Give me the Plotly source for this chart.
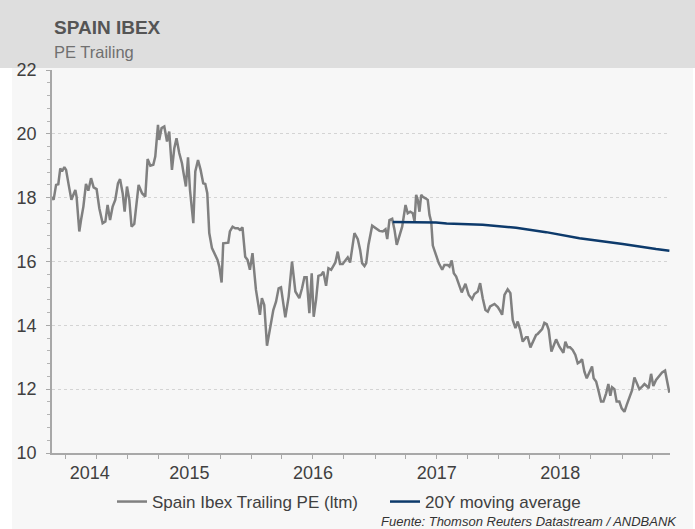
import plotly.graph_objects as go
from datetime import datetime, timedelta

# Spain Ibex trailing PE (decimal year, value)
pe_years = [
    2014.388, 2014.401, 2014.421, 2014.439, 2014.455, 2014.469, 2014.488, 2014.502, 2014.523, 2014.545,
    2014.561, 2014.577, 2014.587, 2014.609, 2014.623, 2014.642, 2014.663, 2014.682, 2014.704, 2014.725,
    2014.749, 2014.771, 2014.798, 2014.820, 2014.838, 2014.858, 2014.879, 2014.900, 2014.922, 2014.939,
    2014.960, 2014.976, 2014.995, 2015.014, 2015.032, 2015.054, 2015.089, 2015.117, 2015.143, 2015.162,
    2015.184, 2015.208, 2015.224, 2015.246, 2015.256, 2015.275, 2015.297, 2015.319, 2015.337, 2015.359,
    2015.378, 2015.396, 2015.418, 2015.440, 2015.453, 2015.472, 2015.489, 2015.505, 2015.532, 2015.548,
    2015.570, 2015.591, 2015.612, 2015.629, 2015.645, 2015.661, 2015.683, 2015.701, 2015.728, 2015.742,
    2015.761, 2015.774, 2015.796, 2015.815, 2015.828, 2015.850, 2015.871, 2015.893, 2015.909, 2015.930,
    2015.952, 2015.971, 2015.990, 2016.011, 2016.039, 2016.071, 2016.087, 2016.106, 2016.128, 2016.152,
    2016.179, 2016.201, 2016.222, 2016.241, 2016.276, 2016.303, 2016.330, 2016.357, 2016.389, 2016.411,
    2016.430, 2016.448, 2016.470, 2016.489, 2016.505, 2016.524, 2016.543, 2016.565, 2016.583, 2016.605,
    2016.624, 2016.646, 2016.664, 2016.680, 2016.699, 2016.718, 2016.739, 2016.761, 2016.780, 2016.799,
    2016.834, 2016.861, 2016.880, 2016.896, 2016.915, 2016.929, 2016.947, 2016.977, 2017.010, 2017.036,
    2017.063, 2017.085, 2017.099, 2017.117, 2017.139, 2017.158, 2017.176, 2017.198, 2017.220, 2017.247,
    2017.265, 2017.285, 2017.306, 2017.320, 2017.333, 2017.346, 2017.360, 2017.374, 2017.387, 2017.409,
    2017.427, 2017.441, 2017.455, 2017.468, 2017.494, 2017.516, 2017.544, 2017.562, 2017.589, 2017.603,
    2017.621, 2017.638, 2017.657, 2017.678, 2017.702, 2017.732, 2017.759, 2017.786, 2017.805, 2017.832,
    2017.851, 2017.872, 2017.894, 2017.913, 2017.932, 2017.967, 2017.994, 2018.013, 2018.029, 2018.048,
    2018.074, 2018.096, 2018.115, 2018.137, 2018.155, 2018.175, 2018.196, 2018.223, 2018.236, 2018.258,
    2018.282, 2018.304, 2018.317, 2018.331, 2018.353, 2018.371, 2018.390, 2018.406, 2018.428, 2018.466,
    2018.493, 2018.525, 2018.541, 2018.560, 2018.579, 2018.600, 2018.622, 2018.641, 2018.660, 2018.676,
    2018.695, 2018.714, 2018.735, 2018.757, 2018.770, 2018.790, 2018.808, 2018.830, 2018.849, 2018.871,
    2018.889, 2018.905, 2018.919, 2018.938, 2018.956, 2018.978, 2018.997, 2019.019, 2019.037, 2019.059,
    2019.081, 2019.100, 2019.119, 2019.140, 2019.162, 2019.181, 2019.199, 2019.215, 2019.235, 2019.253,
    2019.275, 2019.302, 2019.324, 2019.348, 2019.364, 2019.383,
]
pe_values = [
    18.03, 17.93, 18.40, 18.42, 18.92, 18.82, 18.96, 18.87, 18.40, 17.93,
    18.09, 18.24, 18.03, 16.94, 17.30, 17.72, 18.43, 18.22, 18.61, 18.32,
    18.27, 17.67, 17.20, 17.25, 17.77, 17.30, 17.72, 17.93, 18.45, 18.58,
    18.14, 17.56, 18.35, 17.93, 17.09, 17.18, 18.40, 18.14, 18.03, 19.21,
    19.00, 19.03, 19.29, 20.28, 19.81, 20.18, 20.23, 19.76, 20.07, 18.87,
    19.55, 19.86, 19.40, 19.08, 18.77, 18.35, 19.26, 18.24, 17.20, 18.82,
    19.18, 18.87, 18.45, 18.43, 18.14, 16.89, 16.42, 16.26, 16.05, 15.84,
    15.34, 16.57, 16.59, 16.59, 16.94, 17.09, 17.04, 17.04, 16.99, 17.07,
    16.15, 16.05, 15.74, 16.26, 15.11, 14.33, 14.85, 14.64, 13.36, 13.91,
    14.48, 14.74, 15.16, 15.19, 14.25, 14.90, 16.00, 15.06, 14.85, 15.16,
    15.51, 15.51, 14.38, 15.63, 14.27, 14.80, 15.55, 15.58, 15.68, 15.24,
    15.79, 15.74, 15.84, 15.97, 16.31, 15.92, 15.92, 16.05, 16.13, 15.97,
    16.89, 16.70, 16.36, 15.95, 15.86, 15.95, 16.52, 17.12, 17.04, 16.96,
    16.94, 17.01, 16.70, 17.30, 17.34, 16.99, 16.52, 16.83, 17.09, 17.77,
    17.51, 17.56, 17.51, 17.25, 18.09, 17.93, 17.56, 18.09, 18.03, 17.98,
    17.93, 17.46, 17.25, 16.50, 16.21, 15.95, 15.74, 15.89, 15.89, 15.84,
    16.03, 15.63, 15.53, 15.27, 15.03, 15.30, 14.95, 14.82, 14.98, 15.06,
    15.32, 14.85, 14.48, 14.43, 14.59, 14.67, 14.57, 14.45, 14.33, 14.95,
    15.13, 15.01, 14.17, 13.91, 14.12, 13.86, 13.49, 13.63, 13.63, 13.31,
    13.52, 13.70, 13.73, 13.80, 13.88, 14.08, 14.04, 13.86, 13.18, 13.56,
    13.33, 13.14, 13.49, 13.31, 13.31, 13.23, 13.07, 12.81, 12.86, 12.94,
    12.55, 12.34, 12.55, 12.71, 12.34, 12.24, 11.97, 11.61, 11.61, 11.87,
    12.16, 11.79, 12.06, 12.00, 11.61, 11.61, 11.40, 11.29, 11.50, 11.75,
    11.97, 12.37, 12.18, 12.00, 12.08, 12.16, 12.10, 12.03, 12.48, 12.10,
    12.29, 12.41, 12.52, 12.58, 12.29, 11.89,
]

# 20Y moving average
ma_years = [2017.144, 2017.494, 2017.580, 2017.872, 2018.142, 2018.385, 2018.655, 2018.762, 2019.005, 2019.275, 2019.383]
ma_values = [17.24, 17.22, 17.19, 17.15, 17.06, 16.92, 16.73, 16.68, 16.55, 16.39, 16.34]

year_labels = ["2014", "2015", "2016", "2017", "2018"]
y_ticks = [10, 12, 14, 16, 18, 20, 22]

x_start, x_end = 2014.388, 2019.388


def to_date(dec):
    year = int(dec)
    start = datetime(year, 1, 1)
    days = (datetime(year + 1, 1, 1) - start).days
    return start + timedelta(days=(dec - year) * days)


# figure geometry in pixels
W, H = 695, 529
L, R, T, B = 52, 670, 70, 453


def px(x):
    return (x - L) / (R - L)


def py(y):
    return (B - y) / (B - T)


FONT = "Arial, Liberation Sans, sans-serif"

fig = go.Figure()
fig.add_trace(go.Scatter(
    x=[to_date(v) for v in pe_years], y=pe_values, mode="lines",
    name="Spain Ibex Trailing PE (ltm)",
    line=dict(color="#808080", width=2.5),
))
fig.add_trace(go.Scatter(
    x=[to_date(v) for v in ma_years], y=ma_values, mode="lines",
    name="20Y moving average",
    line=dict(color="#0d3a6b", width=2.5),
))

# year labels centred on the visible part of each year
label_pos = []
for lab in year_labels:
    yr = int(lab)
    a = max(yr, x_start)
    b = min(yr + 1, x_end)
    label_pos.append(to_date((a + b) / 2))

quarters = [datetime(y, m, 1) for y in range(2014, 2020) for m in (1, 4, 7, 10)]
quarters = [q for q in quarters if to_date(x_start) <= q <= to_date(x_end)]

fig.update_layout(
    width=W, height=H,
    margin=dict(l=L, r=W - R, t=T, b=H - B, autoexpand=False),
    paper_bgcolor="white",
    plot_bgcolor="rgba(0,0,0,0)",
    font=dict(family=FONT, color="#404040"),
    showlegend=True,
    legend=dict(
        orientation="h", x=px(112), xanchor="left", y=py(502), yanchor="middle",
        font=dict(size=17, color="#404040"), bgcolor="rgba(0,0,0,0)",
        itemwidth=30, entrywidth=228, entrywidthmode="pixels",
    ),
    xaxis=dict(
        type="date",
        range=[to_date(x_start), to_date(x_end)],
        tickvals=label_pos, ticktext=year_labels,
        ticks="outside", ticklen=3, tickcolor="rgba(0,0,0,0)",
        tickfont=dict(size=18, color="#404040"),
        showgrid=False, zeroline=False,
        showline=True, linecolor="#a8a8a8", linewidth=1.5,
        minor=dict(tickvals=quarters, ticks="outside", ticklen=4,
                   tickcolor="#a8a8a8", showgrid=False),
    ),
    yaxis=dict(
        range=[10, 22],
        tickvals=y_ticks,
        ticks="outside", ticklen=4, tickcolor="#a8a8a8",
        ticklabelstandoff=6,
        tickfont=dict(size=18, color="#404040"),
        showgrid=True, gridcolor="#d4d4d4", griddash="dot", gridwidth=1,
        zeroline=False,
        showline=True, linecolor="#a8a8a8", linewidth=1.5,
        minor=dict(dtick=0.4, ticks="outside", ticklen=3,
                   tickcolor="#b4b4b4", showgrid=False),
    ),
    shapes=[
        # body background
        dict(type="rect", xref="paper", yref="paper", layer="below",
             x0=px(12), x1=px(693), y0=py(H), y1=py(68),
             fillcolor="#f7f7f7", line=dict(width=0)),
        # header band
        dict(type="rect", xref="paper", yref="paper", layer="below",
             x0=px(0), x1=px(W), y0=py(68), y1=py(0),
             fillcolor="#dedede", line=dict(width=0)),
    ],
    annotations=[
        dict(text="<b>SPAIN IBEX</b>", xref="paper", yref="paper",
             x=px(52), y=py(27), xanchor="left", yanchor="middle",
             showarrow=False, font=dict(size=19, color="#555555", family=FONT)),
        dict(text="PE Trailing", xref="paper", yref="paper",
             x=px(52), y=py(52), xanchor="left", yanchor="middle",
             showarrow=False, font=dict(size=16.5, color="#707070", family=FONT)),
        dict(text="<i>Fuente: Thomson Reuters Datastream / ANDBANK</i>",
             xref="paper", yref="paper",
             x=px(679), y=py(521), xanchor="right", yanchor="middle",
             showarrow=False, font=dict(size=13, color="#333333", family=FONT)),
    ],
)

# page body margin removed so the figure sits at the window origin
fig.write_html("out.html", config={"displayModeBar": False},
               post_script="document.body.style.margin='0';")
